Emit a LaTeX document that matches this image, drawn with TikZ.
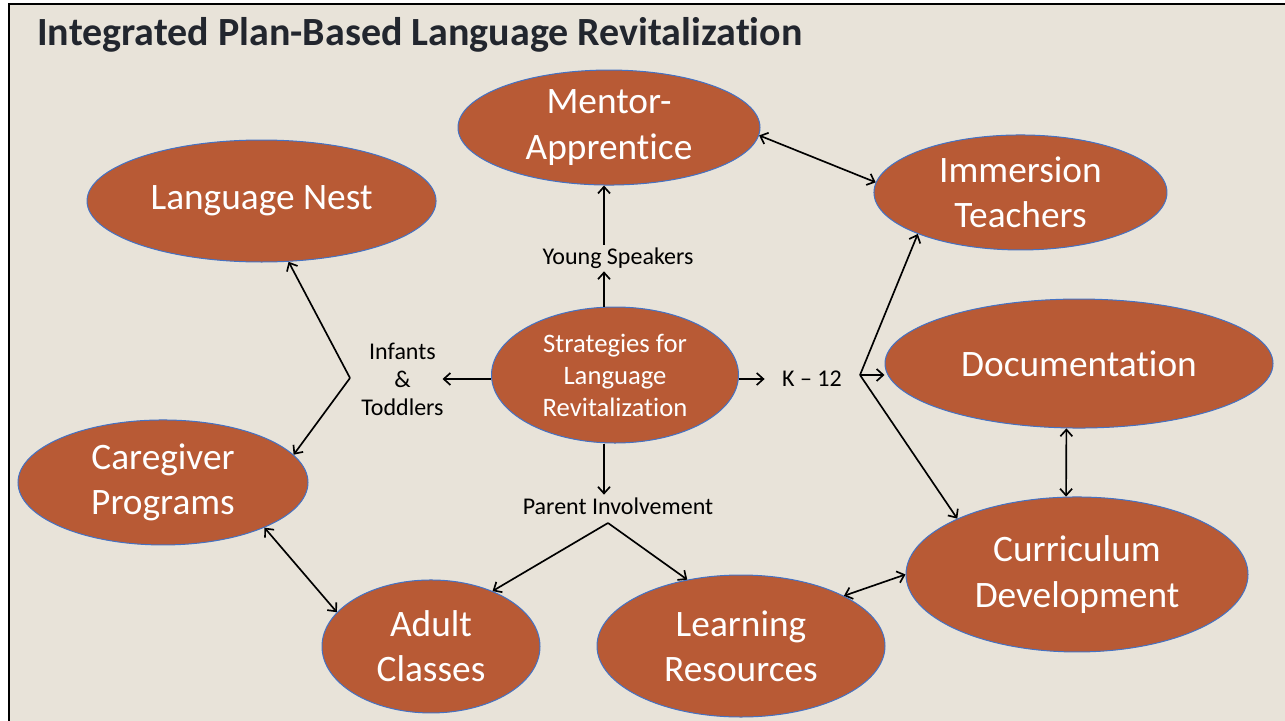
\documentclass[tikz,border=0pt]{standalone}
\usepackage{fontspec}
\setmainfont{Carlito}[Ligatures=NoCommon]
\usetikzlibrary{shapes.geometric,positioning,arrows.meta}
\definecolor{rust}{RGB}{184,90,53}
\definecolor{rim}{RGB}{68,114,196}
\definecolor{parch}{RGB}{232,227,217}
\definecolor{ink}{RGB}{34,38,46}

\begin{document}
\begin{tikzpicture}[on grid,
    bubble/.style={ellipse,fill=rust,draw=rim,line width=0.75pt,text=white,inner sep=0pt,
      align=center,font=\fontsize{28}{34}\selectfont},
    tag/.style={inner sep=2pt,align=center,font=\fontsize{18}{21}\selectfont},
    link/.style={line width=1.25pt,-{Straight Barb[length=5pt,width=9pt]}},
    both/.style={line width=1.25pt,{Straight Barb[length=5pt,width=9pt]}-{Straight Barb[length=5pt,width=9pt]}}]
  % slide
  \useasboundingbox (0,0) rectangle (963.75pt,-540.75pt);
  \fill[parch] (6.75pt,-3pt) rectangle (963.75pt,-540.75pt);
  \draw[line width=1.9pt] (6.75pt,-540.75pt) -- (6.75pt,-3pt) -- (963.75pt,-3pt);
  \node[anchor=base west,inner sep=0pt,text=ink,font=\fontsize{30}{36}\selectfont\bfseries] (Title)
    at (27.75pt,-33.75pt) {Integrated Plan-Based Language Revitalization};

  % bubbles
  \node[bubble,minimum width=185.25pt,minimum height=102pt,font=\fontsize{20}{24}\selectfont] (Strat)
    at (461.25pt,-281.25pt) {Strategies for\\Language\\Revitalization};
  \node[bubble,minimum width=226.5pt,minimum height=86.25pt] (Mentor) [above left=185.6pt and 4.5pt of Strat] {Mentor-\\Apprentice};
  \node[bubble,minimum width=261.75pt,minimum height=91.5pt] (Nest) [above left=130.5pt and 265.1pt of Strat] {Language Nest};
  \node[bubble,minimum width=219.75pt,minimum height=86.25pt] (Immer) [above right=136.9pt and 304.1pt of Strat] {Immersion\\Teachers};
  \node[bubble,minimum width=291pt,minimum height=96.75pt] (Docu) [above right=8.6pt and 348pt of Strat] {Documentation};
  \node[bubble,minimum width=217.5pt,minimum height=93.75pt] (Care) [below left=80.6pt and 339pt of Strat] {Caregiver\\Programs};
  \node[bubble,minimum width=256.5pt,minimum height=116.25pt] (Curric) [below right=149.6pt and 346.5pt of Strat] {Curriculum\\Development};
  \node[bubble,minimum width=163.5pt,minimum height=99.75pt] (Adult) [below left=203.6pt and 138pt of Strat] {Adult\\Classes};
  \node[bubble,minimum width=216pt,minimum height=106.5pt] (Learn) [below right=203.25pt and 94.5pt of Strat] {Learning\\Resources};

  % labels
  \node[tag] (Young) [above right=87.75pt and 2.25pt of Strat] {Young Speakers};
  \node[tag] (Infant) [below left=3pt and 159.4pt of Strat] {Infants\\\&\\Toddlers};
  \node[tag] (Kgrade) [below right=3pt and 147.75pt of Strat] {K -- 12};
  \node[tag] (Parent) [below right=98.25pt and 2.25pt of Strat] {Parent Involvement};
  \node[coordinate,below left=2.25pt and 198.75pt of Strat] (Lvert) {};
  \node[coordinate,right=183.75pt of Strat] (Rvert) {};
  \node[coordinate,below left=111pt and 5.25pt of Strat] (Pvert) {};

  % connectors
  \draw[link] ([xshift=-8.25pt]Strat.north) -- ([xshift=-10.5pt]Young.south);
  \draw[link] ([xshift=-10.5pt]Young.north) -- ([xshift=-3.75pt]Mentor.south);
  \draw[link] ([xshift=-8.25pt]Strat.south) -- ([xshift=-10.5pt]Parent.north);
  \draw[link] (Strat.west |- Infant) -- ([xshift=-3pt]Infant.east);
  \draw[link] (Strat.east |- Kgrade) -- ([xshift=-11pt]Kgrade.west);
  \draw[link] (Lvert) -- (Nest.-66);
  \draw[link] (Lvert) -- (Care.12);
  \draw[link] (Rvert) -- (Immer.202);
  \draw[link] (Rvert) -- (Rvert -| Docu.west);
  \draw[link] (Rvert) -- (Curric.155);
  \draw[link] (Pvert) -- (Adult.42);
  \draw[link] (Pvert) -- (Learn.129);
  \draw[both] (Mentor.-3) -- (Immer.176);
  \draw[both] (Docu.-101) -- (Curric.98);
  \draw[both] (Curric.west) -- (Learn.26);
  \draw[both] (Care.-24) -- (Adult.160);
\end{tikzpicture}
\end{document}
